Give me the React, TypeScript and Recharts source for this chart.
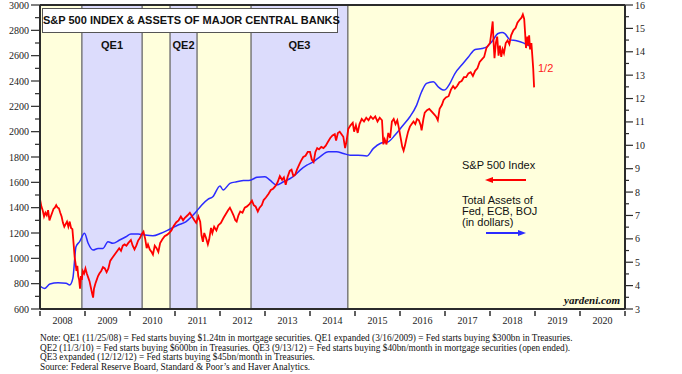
import { ComposedChart, Line, XAxis, YAxis, ReferenceArea, ReferenceLine } from 'recharts'

// S&P 500 index, weekly-ish readings (decimal year, index level)
const spxDates = [
  2008.0, 2008.03, 2008.06, 2008.09, 2008.12, 2008.15, 2008.18, 2008.21, 2008.24, 2008.27, 2008.3, 2008.33,
  2008.36, 2008.39, 2008.42, 2008.45, 2008.48, 2008.51, 2008.54, 2008.57, 2008.6, 2008.63, 2008.66, 2008.69,
  2008.72, 2008.75, 2008.77, 2008.79, 2008.81, 2008.83, 2008.85, 2008.87, 2008.89, 2008.91, 2008.93, 2008.95,
  2008.98, 2009.01, 2009.04, 2009.07, 2009.1, 2009.13, 2009.16, 2009.18, 2009.2, 2009.23, 2009.26, 2009.29,
  2009.32, 2009.36, 2009.4, 2009.44, 2009.48, 2009.52, 2009.56, 2009.6, 2009.64, 2009.68, 2009.72, 2009.76,
  2009.8, 2009.84, 2009.88, 2009.92, 2009.96, 2010.02, 2010.06, 2010.1, 2010.14, 2010.18, 2010.22, 2010.26,
  2010.3, 2010.34, 2010.37, 2010.4, 2010.44, 2010.48, 2010.51, 2010.55, 2010.59, 2010.63, 2010.67, 2010.72,
  2010.77, 2010.82, 2010.87, 2010.92, 2010.97, 2011.03, 2011.08, 2011.13, 2011.18, 2011.22, 2011.28, 2011.33,
  2011.38, 2011.43, 2011.47, 2011.52, 2011.56, 2011.59, 2011.62, 2011.65, 2011.69, 2011.73, 2011.76, 2011.8,
  2011.83, 2011.87, 2011.92, 2011.96, 2012.02, 2012.08, 2012.13, 2012.18, 2012.22, 2012.26, 2012.3, 2012.34,
  2012.37, 2012.41, 2012.45, 2012.5, 2012.55, 2012.6, 2012.66, 2012.71, 2012.75, 2012.79, 2012.84, 2012.88,
  2012.93, 2012.97, 2013.02, 2013.08, 2013.13, 2013.18, 2013.23, 2013.28, 2013.33, 2013.38, 2013.42, 2013.46,
  2013.5, 2013.55, 2013.59, 2013.63, 2013.67, 2013.71, 2013.76, 2013.8, 2013.85, 2013.9, 2013.95, 2014.0,
  2014.04, 2014.08, 2014.12, 2014.16, 2014.2, 2014.25, 2014.3, 2014.35, 2014.4, 2014.45, 2014.5, 2014.55,
  2014.58, 2014.62, 2014.66, 2014.7, 2014.74, 2014.78, 2014.81, 2014.85, 2014.9, 2014.95, 2014.98, 2015.02,
  2015.06, 2015.1, 2015.15, 2015.2, 2015.25, 2015.3, 2015.35, 2015.4, 2015.45, 2015.5, 2015.55, 2015.6,
  2015.63, 2015.66, 2015.7, 2015.74, 2015.78, 2015.82, 2015.86, 2015.9, 2015.94, 2015.98, 2016.02, 2016.05,
  2016.08, 2016.11, 2016.14, 2016.18, 2016.22, 2016.26, 2016.3, 2016.34, 2016.38, 2016.42, 2016.46, 2016.48,
  2016.52, 2016.55, 2016.6, 2016.65, 2016.7, 2016.75, 2016.8, 2016.84, 2016.88, 2016.93, 2016.97, 2017.02,
  2017.08, 2017.13, 2017.18, 2017.22, 2017.27, 2017.32, 2017.37, 2017.42, 2017.47, 2017.52, 2017.57, 2017.62,
  2017.67, 2017.72, 2017.77, 2017.82, 2017.87, 2017.92, 2017.96, 2018.0, 2018.03, 2018.06, 2018.08, 2018.1,
  2018.13, 2018.16, 2018.19, 2018.22, 2018.25, 2018.28, 2018.31, 2018.35, 2018.39, 2018.43, 2018.47, 2018.52,
  2018.57, 2018.61, 2018.65, 2018.7, 2018.73, 2018.76, 2018.78, 2018.8, 2018.83, 2018.85, 2018.87, 2018.89,
  2018.92, 2018.94, 2018.96, 2018.98,
]
const spxValues = [
  1468, 1410, 1380, 1330, 1360, 1340, 1380, 1300, 1330, 1360, 1390, 1400,
  1420, 1400, 1395, 1360, 1330, 1280, 1250, 1270, 1290, 1250, 1290, 1240,
  1230, 1100, 1010, 960, 900, 940, 860, 830, 760, 860, 830, 900,
  880, 920, 880, 850, 820, 770, 720, 690, 760, 800, 830, 860,
  880, 900, 930, 920, 890, 920, 980, 1000, 1020, 1040, 1060, 1080,
  1060, 1100, 1110, 1100, 1120, 1145, 1100, 1070, 1100, 1140, 1160, 1190,
  1210, 1150, 1080, 1110, 1070, 1050, 1030, 1100, 1080, 1050, 1120, 1150,
  1175, 1185, 1200, 1220, 1255, 1285, 1300, 1330, 1300, 1320, 1340, 1360,
  1330, 1300, 1280, 1330, 1290, 1180, 1130, 1200, 1160, 1110, 1150, 1240,
  1200, 1250, 1220, 1260, 1280, 1320, 1350, 1380, 1400, 1370, 1340, 1300,
  1290, 1340, 1370, 1360, 1400, 1410, 1430, 1455, 1420, 1410, 1370, 1400,
  1420, 1460, 1480, 1510, 1540, 1550, 1570, 1600, 1650, 1620, 1640, 1580,
  1640, 1690, 1700, 1650, 1660, 1700, 1740, 1770, 1800, 1810, 1840, 1840,
  1780, 1760, 1840, 1870, 1860, 1880, 1870, 1890, 1920, 1950, 1970, 1980,
  1930, 1990, 2000, 1980, 1960, 1870, 1920, 2020, 2050, 2070, 2000, 2050,
  1990, 2060, 2100, 2080, 2110, 2090, 2120, 2100, 2120, 2080, 2110, 2090,
  1900, 1940, 1900, 1990, 1950, 2080, 2100, 2060, 2090, 2020, 1940, 1880,
  1850, 1890, 1940, 2000, 2040, 2060, 2080, 2060, 2100, 2090, 2050, 2010,
  2100, 2150, 2170, 2180, 2160, 2140, 2120, 2090, 2180, 2210, 2250, 2270,
  2280, 2330, 2360, 2340, 2360, 2390, 2400, 2430, 2430, 2460, 2470, 2440,
  2480, 2500, 2550, 2570, 2590, 2660, 2680, 2700, 2780, 2870, 2700, 2580,
  2700, 2750, 2600, 2680, 2590, 2650, 2620, 2700, 2720, 2690, 2760, 2800,
  2820, 2860, 2880, 2900, 2925, 2890, 2780, 2660, 2750, 2680, 2760, 2650,
  2700, 2600, 2500, 2350,
]

// Total assets of Fed, ECB, BOJ in trillions of dollars
const assetDates = [
  2008.0, 2008.1, 2008.22, 2008.4, 2008.58, 2008.66, 2008.73, 2008.8, 2008.88, 2008.99, 2009.07, 2009.18,
  2009.29, 2009.4, 2009.51, 2009.62, 2009.77, 2009.91, 2010.02, 2010.18, 2010.33, 2010.51, 2010.69, 2010.88,
  2011.07, 2011.24, 2011.44, 2011.59, 2011.73, 2011.84, 2012.0, 2012.07, 2012.22, 2012.37, 2012.52, 2012.67,
  2012.82, 2013.0, 2013.11, 2013.26, 2013.41, 2013.56, 2013.67, 2013.78, 2013.93, 2014.07, 2014.22, 2014.41,
  2014.59, 2014.74, 2014.89, 2015.07, 2015.26, 2015.41, 2015.56, 2015.74, 2015.89, 2016.04, 2016.22, 2016.37,
  2016.48, 2016.59, 2016.74, 2016.85, 2016.98, 2017.11, 2017.22, 2017.37, 2017.52, 2017.67, 2017.82, 2017.93,
  2018.04, 2018.18, 2018.27, 2018.33, 2018.44, 2018.59, 2018.74, 2018.89, 2018.93,
]
const assetValues = [
  3.98, 3.88, 4.07, 4.12, 4.1, 4.03, 4.31, 5.66, 5.88, 6.24, 5.81, 5.52,
  5.59, 5.59, 5.88, 5.81, 5.95, 6.09, 6.21, 6.21, 6.16, 6.13, 6.24, 6.41,
  6.59, 6.73, 7.09, 7.44, 7.69, 7.8, 8.26, 8.09, 8.37, 8.44, 8.49, 8.51,
  8.63, 8.66, 8.51, 8.3, 8.44, 8.58, 8.73, 8.94, 9.15, 9.29, 9.51, 9.72,
  9.72, 9.65, 9.58, 9.58, 9.54, 9.87, 10.08, 10.15, 10.44, 10.79, 11.22, 11.72,
  12.29, 12.65, 12.72, 12.5, 12.36, 12.65, 13.07, 13.43, 13.78, 14.1, 14.14, 14.21,
  14.43, 14.78, 14.82, 14.78, 14.52, 14.47, 14.38, 14.24, 14.21,
]

const qePeriods = [
  { name: 'QE1', start: 2008.93, end: 2010.27 },
  { name: 'QE2', start: 2010.89, end: 2011.49 },
  { name: 'QE3', start: 2012.69, end: 2014.84 },
]

const yearTicks = [2008, 2009, 2010, 2011, 2012, 2013, 2014, 2015, 2016, 2017, 2018, 2019, 2020, 2021]
const leftTicks = [600, 700, 800, 900, 1000, 1100, 1200, 1300, 1400, 1500, 1600, 1700, 1800, 1900, 2000,
  2100, 2200, 2300, 2400, 2500, 2600, 2700, 2800, 2900, 3000]
const rightTicks = [3, 3.5, 4, 4.5, 5, 5.5, 6, 6.5, 7, 7.5, 8, 8.5, 9, 9.5, 10, 10.5, 11, 11.5, 12, 12.5,
  13, 13.5, 14, 14.5, 15, 15.5, 16]

const notes = [
  'Note: QE1 (11/25/08) = Fed starts buying $1.24tn in mortgage securities. QE1 expanded (3/16/2009) = Fed starts buying $300bn in Treasuries.',
  'QE2 (11/3/10) = Fed starts buying $600bn in Treasuries. QE3 (9/13/12) = Fed starts buying $40bn/month in mortgage securities (open ended).',
  'QE3 expanded (12/12/12) = Fed starts buying $45bn/month in Treasuries.',
  'Source: Federal Reserve Board, Standard & Poor\u2019s and Haver Analytics.',
]

const spxData = spxDates.map((t, i) => ({ t, spx: spxValues[i] }))
const assetData = assetDates.map((t, i) => ({ t, assets: assetValues[i] }))

const W = 682
const H = 374
const PLOT_LEFT = 40
const PLOT_RIGHT = 625
const X0 = 2008
const X1 = 2021
const SERIF = '"Liberation Serif", "Times New Roman", serif'
const SANS = '"Liberation Sans", Arial, sans-serif'
const AXIS = '#2b2b2b'
const YELLOW = '#ffffdc'
const LAVENDER = '#dcdcfc'

const xOf = (t: number) => PLOT_LEFT + ((t - X0) / (X1 - X0)) * (PLOT_RIGHT - PLOT_LEFT)
const halfYear = (PLOT_RIGHT - PLOT_LEFT) / (X1 - X0) / 2

const LeftTick = ({ x, y, payload }: any) => {
  const major = payload.value % 200 === 0
  return (
    <g>
      <line x1={x - (major ? 9 : 5)} x2={x} y1={y} y2={y} stroke={AXIS} strokeWidth={1.2} />
      {major && (
        <text x={x - 11} y={y} dy={3.5} textAnchor="end" fontSize={10} fontFamily={SERIF} fill="#222">
          {payload.value}
        </text>
      )}
    </g>
  )
}

const RightTick = ({ x, y, payload }: any) => {
  const major = Number.isInteger(payload.value)
  return (
    <g>
      <line x1={x} x2={x + (major ? 8 : 4)} y1={y} y2={y} stroke={AXIS} strokeWidth={1.2} />
      {major && (
        <text x={x + 10} y={y} dy={3.5} textAnchor="start" fontSize={10} fontFamily={SERIF} fill="#222">
          {payload.value}
        </text>
      )}
    </g>
  )
}

const YearTick = ({ x, y, payload }: any) => (
  <g>
    <line x1={x} x2={x} y1={y + 2} y2={y + 7} stroke={AXIS} strokeWidth={1.5} />
    {payload.value < X1 && (
      <text x={x + halfYear} y={y + 11} dy={3.5} textAnchor="middle" fontSize={10} fontFamily={SERIF} fill="#222">
        {payload.value}
      </text>
    )}
  </g>
)

export default function App() {
  return (
    <div style={{ position: 'absolute', left: 0, top: 0, width: W, height: H, background: '#fff', overflow: 'hidden' }}>
      <ComposedChart width={W} height={H} margin={{ top: 5, right: 0, bottom: 45, left: 0 }}>
        <XAxis
          type="number"
          dataKey="t"
          domain={[X0, X1]}
          ticks={yearTicks}
          allowDataOverflow
          height={20}
          tickSize={0}
          tickMargin={0}
          tick={<YearTick />}
          axisLine={{ stroke: AXIS, strokeWidth: 2 }}
        />
        <YAxis
          yAxisId="left"
          domain={[600, 3000]}
          ticks={leftTicks}
          width={40}
          tickSize={0}
          tickMargin={0}
          tick={<LeftTick />}
          interval={0}
          axisLine={{ stroke: AXIS, strokeWidth: 2 }}
        />
        <YAxis
          yAxisId="right"
          orientation="right"
          domain={[3, 16]}
          ticks={rightTicks}
          width={57}
          tickSize={0}
          tickMargin={0}
          tick={<RightTick />}
          interval={0}
          axisLine={{ stroke: AXIS, strokeWidth: 2 }}
        />
        <ReferenceArea yAxisId="left" x1={X0} x2={X1} y1={600} y2={3000} fill={YELLOW} fillOpacity={1} />
        {qePeriods.map((q) => (
          <ReferenceArea key={q.name} yAxisId="left" x1={q.start} x2={q.end} y1={600} y2={3000} fill={LAVENDER} fillOpacity={1} />
        ))}
        {qePeriods.flatMap((q) => [
          <ReferenceLine key={q.name + 's'} yAxisId="left" x={q.start} stroke="#7a7a7a" strokeWidth={1.5} />,
          <ReferenceLine key={q.name + 'e'} yAxisId="left" x={q.end} stroke="#7a7a7a" strokeWidth={1.5} />,
        ])}
        <ReferenceLine yAxisId="left" y={3000} stroke={AXIS} strokeWidth={2} />
        <Line
          data={assetData}
          yAxisId="right"
          dataKey="assets"
          stroke="#2b2bff"
          strokeWidth={1.5}
          dot={false}
          type="monotone"
          isAnimationActive={false}
        />
        <Line
          data={spxData}
          yAxisId="left"
          dataKey="spx"
          stroke="#ff0000"
          strokeWidth={1.8}
          dot={false}
          type="linear"
          isAnimationActive={false}
        />
      </ComposedChart>

      <div
        style={{
          position: 'absolute', left: 42, top: 8, width: 296, height: 25, background: '#fff',
          border: '1px solid #555', boxSizing: 'border-box', fontFamily: SANS, fontWeight: 'bold',
          fontSize: 11, lineHeight: '23px', textAlign: 'center', color: '#111', whiteSpace: 'nowrap',
        }}
      >
        S&amp;P 500 INDEX &amp; ASSETS OF MAJOR CENTRAL BANKS
      </div>

      {qePeriods.map((q) => (
        <div
          key={q.name}
          style={{
            position: 'absolute', left: xOf((q.start + q.end) / 2) - 20, top: 39, width: 40,
            textAlign: 'center', fontFamily: SANS, fontWeight: 'bold', fontSize: 11, color: '#111',
          }}
        >
          {q.name}
        </div>
      ))}

      <div style={{ position: 'absolute', left: 538, top: 62, fontFamily: SANS, fontSize: 11, color: '#ff2020' }}>1/2</div>

      <div style={{ position: 'absolute', left: 462, top: 159, fontFamily: SANS, fontSize: 11, color: '#111' }}>
        S&amp;P 500 Index
      </div>
      <div style={{ position: 'absolute', left: 462, top: 195, fontFamily: SANS, fontSize: 11, lineHeight: '11px', color: '#111' }}>
        Total Assets of
        <br />
        Fed, ECB, BOJ
        <br />
        (in dollars)
      </div>
      <svg style={{ position: 'absolute', left: 0, top: 0 }} width={W} height={H}>
        <line x1={490} x2={526} y1={180} y2={180} stroke="#ff0000" strokeWidth={2} />
        <polygon points="485,180 493,177 493,183" fill="#ff0000" />
        <line x1={486} x2={521} y1={233} y2={233} stroke="#2b2bff" strokeWidth={2} />
        <polygon points="526,233 518,230 518,236" fill="#2b2bff" />
      </svg>

      <div
        style={{
          position: 'absolute', right: 62, top: 294, fontFamily: SERIF, fontWeight: 'bold',
          fontStyle: 'italic', fontSize: 11, color: '#111',
        }}
      >
        yardeni.com
      </div>

      <div style={{ position: 'absolute', left: 40, top: 334, fontFamily: SERIF, fontSize: 9.3, lineHeight: '9.6px', color: '#111', whiteSpace: 'nowrap' }}>
        {notes.map((n) => (
          <div key={n}>{n}</div>
        ))}
      </div>
    </div>
  )
}
